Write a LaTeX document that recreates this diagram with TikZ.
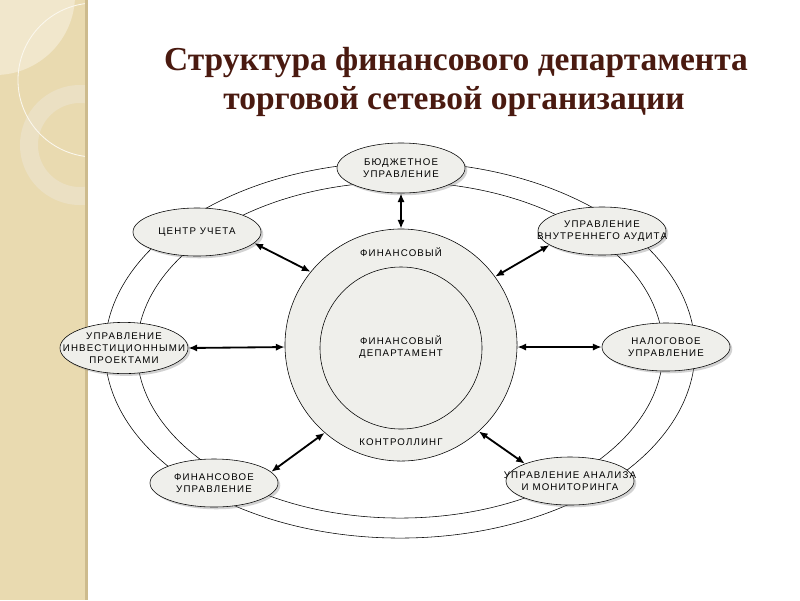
\documentclass[tikz,border=0pt]{standalone}
\usepackage{fontspec}
\setmainfont{Liberation Serif}
\newfontfamily\nodefont[LetterSpace=12]{Liberation Sans}
\usetikzlibrary{arrows.meta,positioning,shapes.geometric,shadows}
\definecolor{stripbeige}{HTML}{E9DAB0}
\definecolor{striplight}{HTML}{F1E7CC}
\definecolor{stripring}{HTML}{EBE0C3}
\definecolor{stripedge}{HTML}{CDBB8E}
\definecolor{titlebrown}{HTML}{4A1A10}
\definecolor{nodegray}{HTML}{EFEFEB}

\begin{document}
\begin{tikzpicture}[
    x=0.025cm, y=-0.025cm,
    unit/.style={ellipse, draw, thin, fill=nodegray, minimum width=3.2cm, minimum height=1.2cm, inner xsep=-1.5cm, inner ysep=-0.1cm, align=center,
        font=\nodefont\fontsize{6.9}{8.4}\selectfont,
        drop shadow={shadow xshift=1.6pt, shadow yshift=-1.6pt, opacity=0.35}},
    ring/.style={circle, draw, thin, fill=nodegray, inner sep=0pt},
    ringtext/.style={inner sep=1pt, align=center, font=\nodefont\fontsize{6.9}{8.4}\selectfont},
    title/.style={font=\bfseries\fontsize{23.8}{28}\selectfont, text=titlebrown, inner sep=0pt},
    arrow/.style={{Latex[length=2.2mm,width=1.8mm]}-{Latex[length=2.2mm,width=1.8mm]}, line width=1.3pt}
]
\useasboundingbox (0,0) rectangle (800,600);
\fill[white] (0,0) rectangle (800,600);

% left strip
\fill[stripbeige] (0,0) rectangle (88,600);
\begin{scope}
\clip (0,0) rectangle (86,600);
\fill[striplight] (-5,-5) circle[radius=2cm];
\fill[stripring, even odd rule] (80,145) circle[radius=1.5cm] (80,145) circle[radius=1.05cm];
\draw[white!80!stripbeige, line width=0.6pt] (95,80) circle[radius=1.925cm];
\end{scope}
\fill[stripedge] (85,0) rectangle (88,600);

% title
\node[title] (title1) at (456,62) {Структура финансового департамента};
\node[title] (title2) at (454,102) {торговой сетевой организации};

% orbits
\draw[thin] (400,350) ellipse[x radius=7.375cm, y radius=4.7cm];
\draw[thin] (400,350) ellipse[x radius=6.575cm, y radius=4.2cm];

% centre
\node[ring, minimum size=5.8cm] (finring) at (401,345) {};
\node[ring, minimum size=4.05cm] (deptcore) at (401,348) {};
\node[ringtext] (ringtop) at (401,252) {ФИНАНСОВЫЙ};
\node[ringtext] (dept) at (401,347) {ФИНАНСОВЫЙ\\ДЕПАРТАМЕНТ};
\node[ringtext] (ringbot) at (401,442) {КОНТРОЛЛИНГ};

% units
\node[unit, minimum height=1.25cm] (budget) at (401,168) {БЮДЖЕТНОЕ\\УПРАВЛЕНИЕ};
\node[unit] (account)  at (197,232) {ЦЕНТР УЧЕТА};
\node[unit] (audit)    at (602,231) {УПРАВЛЕНИЕ\\ВНУТРЕННЕГО АУДИТА};
\node[unit, minimum height=1.28cm] (invest) at (124,348) {УПРАВЛЕНИЕ\\ИНВЕСТИЦИОННЫМИ\\ПРОЕКТАМИ};
\node[unit] (tax)      at (666,347) {НАЛОГОВОЕ\\УПРАВЛЕНИЕ};
\node[unit] (finmgmt)  at (214,483) {ФИНАНСОВОЕ\\УПРАВЛЕНИЕ};
\node[unit] (analysis) at (570,481) {УПРАВЛЕНИЕ АНАЛИЗА\\И МОНИТОРИНГА};

\foreach \a/\b in {budget.south/finring.north, account.-11/finring.141, audit.195/finring.36, invest.east/finring.181,
    tax.west/finring.-1, finmgmt.11/finring.229, analysis.159/finring.-48}{\draw[arrow] (\a) -- (\b);}
\end{tikzpicture}
\end{document}
